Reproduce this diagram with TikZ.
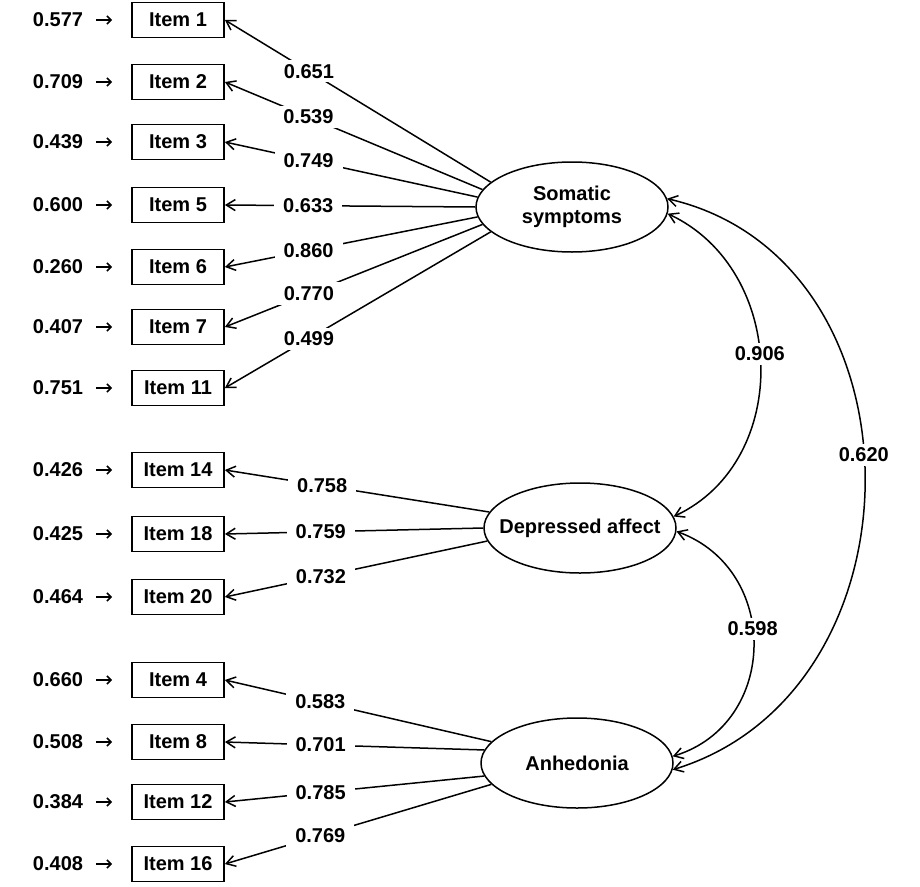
\documentclass[tikz,border=0pt]{standalone}
\usepackage{fontspec}
\setmainfont{Liberation Sans}
\usetikzlibrary{arrows.meta,shapes.geometric}
\begin{document}
\begin{tikzpicture}[x=1pt,y=1pt,
  font=\fontsize{20}{23}\selectfont\bfseries,
  item/.style={draw, line width=1.8pt, minimum width=92pt, minimum height=35pt, inner sep=0pt},
  lat/.style={draw, ellipse, line width=1.5pt, minimum width=192pt, minimum height=90pt, inner sep=0pt},
  err/.style={inner sep=0pt},
  lab/.style={fill=white, inner xsep=9pt, inner ysep=4pt},
  tipa/.tip={Straight Barb[length=9pt,width=11pt,line width=1.5pt]},
  load/.style={line width=1.5pt, -tipa},
  cov/.style={line width=1.5pt, tipa-tipa},
  erra/.style={line width=1.6pt, -{Straight Barb[length=4pt,width=8pt,line width=1.6pt]}, shorten <=13pt, shorten >=19pt}
]
\useasboundingbox (0,0) rectangle (920,-886);

% observed items
\node[item] (i1)  at (178,-20)  {Item 1};
\node[item] (i2)  at (178,-82)  {Item 2};
\node[item] (i3)  at (178,-142) {Item 3};
\node[item] (i5)  at (178,-205) {Item 5};
\node[item] (i6)  at (178,-267) {Item 6};
\node[item] (i7)  at (178,-327) {Item 7};
\node[item] (i11) at (178,-388) {Item 11};
\node[item] (i14) at (178,-470) {Item 14};
\node[item] (i18) at (178,-534) {Item 18};
\node[item] (i20) at (178,-597) {Item 20};
\node[item] (i4)  at (178,-680) {Item 4};
\node[item] (i8)  at (178,-742) {Item 8};
\node[item] (i12) at (178,-802) {Item 12};
\node[item] (i16) at (178,-864) {Item 16};

% error terms
\node[err] (e1)  at (58,-20)  {0.577};
\node[err] (e2)  at (58,-82)  {0.709};
\node[err] (e3)  at (58,-142) {0.439};
\node[err] (e5)  at (58,-205) {0.600};
\node[err] (e6)  at (58,-267) {0.260};
\node[err] (e7)  at (58,-327) {0.407};
\node[err] (e11) at (58,-388) {0.751};
\node[err] (e14) at (58,-470) {0.426};
\node[err] (e18) at (58,-534) {0.425};
\node[err] (e20) at (58,-597) {0.464};
\node[err] (e4)  at (58,-680) {0.660};
\node[err] (e8)  at (58,-742) {0.508};
\node[err] (e12) at (58,-802) {0.384};
\node[err] (e16) at (58,-864) {0.408};

\foreach \n in {1,2,3,5,6,7,11,14,18,20,4,8,12,16}
  \draw[erra] (e\n.east) -- (i\n.west);

% latent factors
\node[lat] (som) at (572,-207) {\makebox[0pt]{\begin{tabular}{@{}c@{}}Somatic\\symptoms\end{tabular}}};
\node[lat] (dep) at (580,-528) {\makebox[0pt]{Depressed affect}};
\node[lat] (anh) at (577,-763) {\makebox[0pt]{Anhedonia}};

% loadings
\draw[load] (som.163) -- node[lab,pos=0.684]{0.651} (i1.east);
\draw[load] (som.169) -- node[lab,pos=0.676]{0.539} (i2.east);
\draw[load] (som.174) -- node[lab,pos=0.669]{0.749} (i3.east);
\draw[load] (som.180) -- node[lab,pos=0.667]{0.633} (i5.east);
\draw[load] (som.186) -- node[lab,pos=0.669]{0.860} (i6.east);
\draw[load] (som.191) -- node[lab,pos=0.674]{0.770} (i7.east);
\draw[load] (som.197) -- node[lab,pos=0.684]{0.499} (i11.east);

\draw[load] (dep.170) -- node[lab,pos=0.632]{0.758} (i14.east);
\draw[load] (dep.180) -- node[lab,pos=0.629]{0.759} (i18.east);
\draw[load] (dep.188) -- node[lab,pos=0.634]{0.732} (i20.east);

\draw[load] (anh.166) -- node[lab,pos=0.642]{0.583} (i4.east);
\draw[load] (anh.172) -- node[lab,pos=0.631]{0.701} (i8.east);
\draw[load] (anh.188) -- node[lab,pos=0.631]{0.785} (i12.east);
\draw[load] (anh.194) -- node[lab,pos=0.642]{0.769} (i16.east);

% factor covariances
\draw[cov] (som.5) .. controls +(-13:269pt) and +(17:269pt) .. node[lab,pos=0.47]{0.620} (anh.-4);
\draw[cov] (som.-4) .. controls +(-25:132pt) and +(25:132pt) .. node[lab,pos=0.47]{0.906} (dep.7);
\draw[cov] (dep.-2) .. controls +(-20:111pt) and +(17:111pt) .. node[lab,pos=0.44]{0.598} (anh.4);
\end{tikzpicture}
\end{document}
